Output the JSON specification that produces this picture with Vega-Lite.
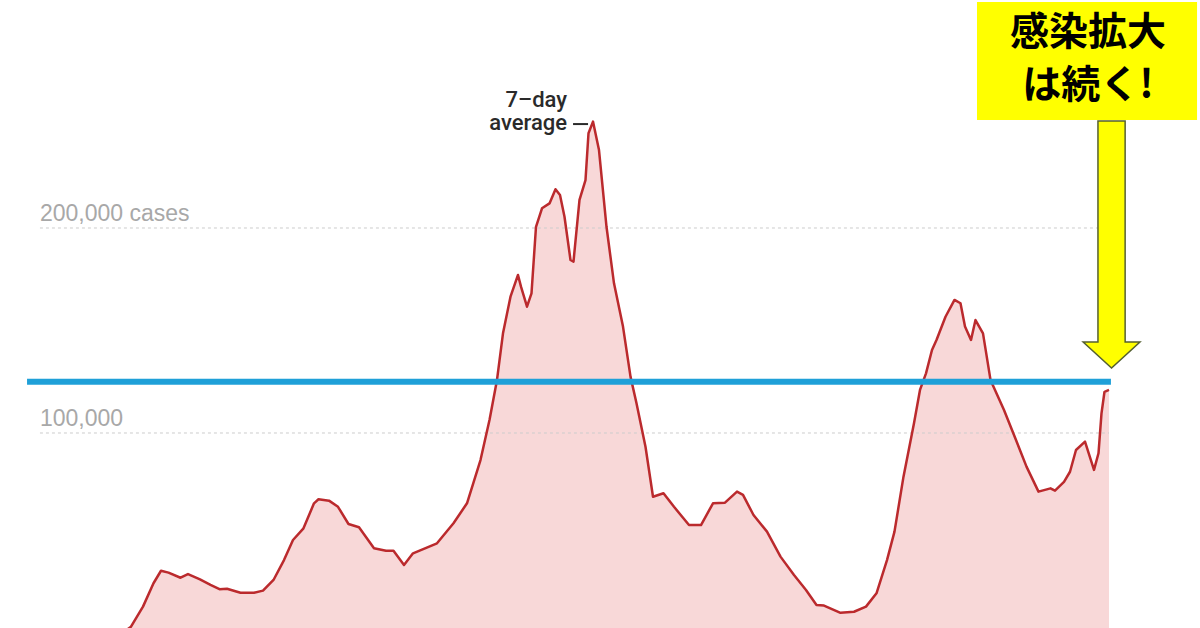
{
  "$schema": "https://vega.github.io/schema/vega-lite/v6.json",
  "width": 1200,
  "height": 628,
  "padding": 0,
  "autosize": {"type": "none"},
  "background": "white",
  "config": {"view": {"stroke": null}},
  "datasets": {
    "cases": [
      {"day": 0, "cases": 1500}, {"day": 5, "cases": 2800}, {"day": 10, "cases": 5500},
      {"day": 18, "cases": 15300}, {"day": 25, "cases": 26700}, {"day": 30, "cases": 32800},
      {"day": 35, "cases": 31900}, {"day": 43, "cases": 29400}, {"day": 48, "cases": 31200},
      {"day": 56, "cases": 28600}, {"day": 63, "cases": 25900}, {"day": 69, "cases": 23800},
      {"day": 74, "cases": 24000}, {"day": 83, "cases": 22100}, {"day": 92, "cases": 22100},
      {"day": 98, "cases": 23100}, {"day": 105, "cases": 28300}, {"day": 112, "cases": 38000},
      {"day": 118, "cases": 47800}, {"day": 125, "cases": 53500}, {"day": 132, "cases": 65700},
      {"day": 135, "cases": 67700}, {"day": 142, "cases": 67000}, {"day": 148, "cases": 64000},
      {"day": 155, "cases": 55600}, {"day": 162, "cases": 54000}, {"day": 172, "cases": 43800},
      {"day": 180, "cases": 42600}, {"day": 185, "cases": 42600}, {"day": 192, "cases": 35600},
      {"day": 198, "cases": 41300}, {"day": 214, "cases": 46200}, {"day": 225, "cases": 56000},
      {"day": 234, "cases": 65700}, {"day": 243, "cases": 86800}, {"day": 249, "cases": 106300},
      {"day": 254, "cases": 125900}, {"day": 258, "cases": 148600}, {"day": 263, "cases": 166500},
      {"day": 268, "cases": 177100}, {"day": 270, "cases": 171400}, {"day": 274, "cases": 161600},
      {"day": 277, "cases": 168100}, {"day": 280, "cases": 200600}, {"day": 284, "cases": 209600},
      {"day": 289, "cases": 212000}, {"day": 293, "cases": 218900}, {"day": 296, "cases": 216100},
      {"day": 299, "cases": 205500}, {"day": 303, "cases": 184400}, {"day": 305, "cases": 183600},
      {"day": 309, "cases": 213700}, {"day": 313, "cases": 223400}, {"day": 315, "cases": 246200},
      {"day": 318, "cases": 251900}, {"day": 322, "cases": 238000}, {"day": 327, "cases": 200600},
      {"day": 332, "cases": 173000}, {"day": 338, "cases": 151900}, {"day": 343, "cases": 127500},
      {"day": 347, "cases": 114500}, {"day": 353, "cases": 93300}, {"day": 358, "cases": 68900},
      {"day": 365, "cases": 70600}, {"day": 372, "cases": 64000}, {"day": 382, "cases": 55100},
      {"day": 390, "cases": 55100}, {"day": 398, "cases": 65700}, {"day": 406, "cases": 66000},
      {"day": 414, "cases": 71400}, {"day": 418, "cases": 69800}, {"day": 425, "cases": 60000},
      {"day": 434, "cases": 51900}, {"day": 443, "cases": 39700}, {"day": 452, "cases": 30700},
      {"day": 460, "cases": 23400}, {"day": 467, "cases": 16100}, {"day": 472, "cases": 15800},
      {"day": 483, "cases": 12300}, {"day": 492, "cases": 12800}, {"day": 500, "cases": 15300},
      {"day": 507, "cases": 21800}, {"day": 514, "cases": 38000}, {"day": 519, "cases": 51900},
      {"day": 525, "cases": 78700}, {"day": 532, "cases": 104700}, {"day": 536, "cases": 121000},
      {"day": 540, "cases": 129100}, {"day": 544, "cases": 140500}, {"day": 547, "cases": 145400},
      {"day": 553, "cases": 156700}, {"day": 559, "cases": 164900}, {"day": 563, "cases": 163300},
      {"day": 566, "cases": 151900}, {"day": 570, "cases": 145400}, {"day": 573, "cases": 155100},
      {"day": 578, "cases": 148600}, {"day": 583, "cases": 125900}, {"day": 592, "cases": 111200},
      {"day": 600, "cases": 96600}, {"day": 607, "cases": 83600}, {"day": 615, "cases": 71400},
      {"day": 623, "cases": 73000}, {"day": 626, "cases": 71900}, {"day": 632, "cases": 76200},
      {"day": 636, "cases": 81100}, {"day": 640, "cases": 91700}, {"day": 646, "cases": 95800},
      {"day": 652, "cases": 82000}, {"day": 655, "cases": 90100}, {"day": 657, "cases": 109600},
      {"day": 659, "cases": 120100}, {"day": 662, "cases": 121000}
    ],
    "grid": [
      {"value": 100000, "label": "100,000"},
      {"value": 200000, "label": "200,000 cases"}
    ],
    "one": [{}]
  },
  "layer": [
    {
      "data": {"name": "cases"},
      "mark": {"type": "area", "color": "#f8d8d8", "clip": true},
      "encoding": {
        "x": {"field": "day", "type": "quantitative", "axis": null, "scale": {"domain": [-77.33, 722.67], "nice": false, "zero": false}},
        "y": {"field": "cases", "type": "quantitative", "axis": null, "scale": {"domain": [4878, 311219], "nice": false, "zero": false}}
      }
    },
    {
      "data": {"name": "grid"},
      "mark": {"type": "rule", "color": "#cccccc", "strokeWidth": 1, "strokeDash": [3, 3]},
      "encoding": {
        "y": {"field": "value", "type": "quantitative"},
        "x": {"datum": -50.7, "type": "quantitative"},
        "x2": {"datum": 662}
      }
    },
    {
      "data": {"name": "grid"},
      "mark": {"type": "text", "align": "left", "baseline": "alphabetic", "dy": -7, "fontSize": 23, "font": "Liberation Sans", "color": "#a8a8a8"},
      "encoding": {
        "y": {"field": "value", "type": "quantitative"},
        "x": {"datum": -50.7, "type": "quantitative"},
        "text": {"field": "label"}
      }
    },
    {
      "data": {"name": "cases"},
      "mark": {"type": "line", "color": "#bb2a2d", "strokeWidth": 2.5, "clip": true, "strokeJoin": "round"},
      "encoding": {
        "x": {"field": "day", "type": "quantitative"},
        "y": {"field": "cases", "type": "quantitative"}
      }
    },
    {
      "data": {"name": "one"},
      "mark": {"type": "text", "align": "right", "baseline": "middle", "fontSize": 22, "font": "Roboto", "fontWeight": 500, "color": "#2a2a2a", "text": "7–day"},
      "encoding": {
        "x": {"datum": 300.7, "type": "quantitative"},
        "y": {"datum": 262400, "type": "quantitative"}
      }
    },
    {
      "data": {"name": "one"},
      "mark": {"type": "text", "align": "right", "baseline": "middle", "fontSize": 22, "font": "Roboto", "fontWeight": 500, "color": "#2a2a2a", "text": "average"},
      "encoding": {
        "x": {"datum": 300.7, "type": "quantitative"},
        "y": {"datum": 251200, "type": "quantitative"}
      }
    },
    {
      "data": {"name": "one"},
      "mark": {"type": "rule", "color": "#2a2a2a", "strokeWidth": 2},
      "encoding": {
        "x": {"datum": 304.7, "type": "quantitative"},
        "x2": {"datum": 314.7},
        "y": {"datum": 250700, "type": "quantitative"}
      }
    },
    {
      "data": {"name": "one"},
      "mark": {"type": "rule", "color": "#1fa0d8", "strokeWidth": 6},
      "encoding": {
        "x": {"datum": -59.3, "type": "quantitative"},
        "x2": {"datum": 663.3},
        "y": {"datum": 125000, "type": "quantitative"}
      }
    },
    {
      "data": {"name": "one"},
      "mark": {"type": "rect", "color": "#ffff00"},
      "encoding": {
        "x": {"datum": 574, "type": "quantitative"},
        "x2": {"datum": 720.7},
        "y": {"datum": 310200, "type": "quantitative"},
        "y2": {"datum": 252700}
      }
    },
    {
      "data": {"name": "one"},
      "mark": {
        "type": "point",
        "shape": "M -0.11 -1 L 0.11 -1 L 0.11 0.79 L 0.23 0.79 L 0 1 L -0.23 0.79 L -0.11 0.79 Z",
        "size": 61009,
        "filled": true,
        "fill": "#ffff00",
        "stroke": "#556030",
        "strokeWidth": 1.5,
        "opacity": 1,
        "fillOpacity": 1
      },
      "encoding": {
        "x": {"datum": 663.7, "type": "quantitative"},
        "y": {"datum": 191950, "type": "quantitative"}
      }
    },
    {
      "data": {"name": "one"},
      "mark": {"type": "text", "align": "center", "baseline": "middle", "fontSize": 39, "fontWeight": "bold", "font": "Noto Sans CJK JP", "color": "#000000", "text": "感染拡大"},
      "encoding": {
        "x": {"datum": 648, "type": "quantitative"},
        "y": {"datum": 295350, "type": "quantitative"}
      }
    },
    {
      "data": {"name": "one"},
      "mark": {"type": "text", "align": "center", "baseline": "middle", "fontSize": 39, "fontWeight": "bold", "font": "Noto Sans CJK JP", "color": "#000000", "text": "は続く!"},
      "encoding": {
        "x": {"datum": 648, "type": "quantitative"},
        "y": {"datum": 269500, "type": "quantitative"}
      }
    }
  ]
}
